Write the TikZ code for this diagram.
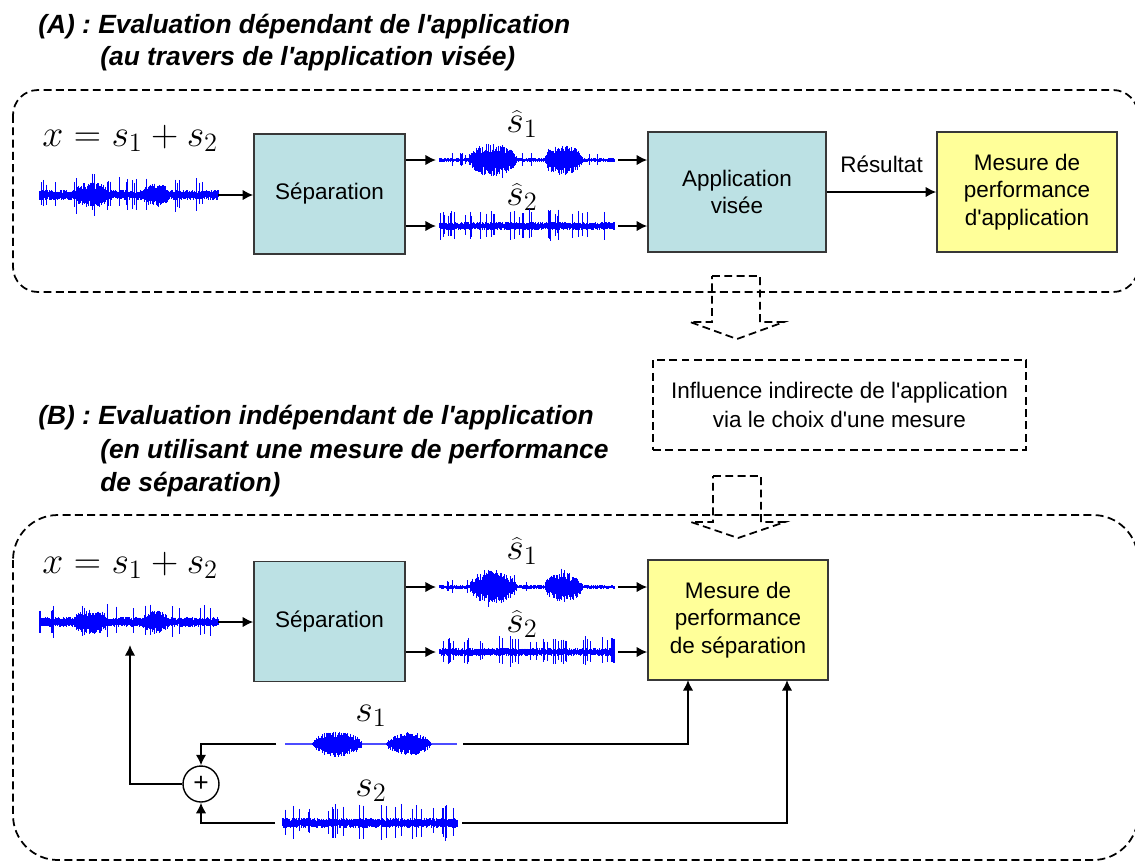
\RequirePackage{fix-cm}
\documentclass[tikz,border=0pt]{standalone}
\usepackage[no-math]{fontspec}
\setmainfont{Liberation Sans}
\usetikzlibrary{arrows.meta}
\definecolor{tealbox}{HTML}{BCE1E4}
\definecolor{yelbox}{HTML}{FFFF99}
\definecolor{boxline}{HTML}{383838}
\definecolor{wblue}{RGB}{0,0,255}
\newcommand{\aq}{\textquotesingle}
\newcommand{\wavedraw}[7]{%
  \draw[wavebase] (#1,#3) -- (#2,#3);
  \foreach \k in {0,...,#4}{%
    \pgfmathsetmacro{\wt}{\k/#4}%
    \pgfmathsetmacro{\xx}{#1+(#2-#1)*\wt}%
    \pgfmathsetmacro{\env}{#5}%
    \pgfmathsetmacro{\spk}{rnd<#6 ? #7*(0.5+0.5*rnd) : 0}%
    \pgfmathsetmacro{\up}{\env*(0.45+0.55*rnd)+\spk}%
    \pgfmathsetmacro{\dn}{\env*(0.45+0.55*rnd)+\spk*(0.6+0.4*rnd)}%
    \draw[waveline] (\xx,#3-\up) -- (\xx,#3+\dn);
  }}
\newcommand{\burst}[3]{((\wt>#1)*(\wt<#2))*#3*sqrt(abs(sin(180*(\wt-#1)/(#2-#1))))}
\begin{document}
\begin{tikzpicture}[x=0.02cm,y=-0.02cm,
  box/.style={draw=boxline,line width=0.9pt,align=center,inner sep=0pt,
    font=\fontsize{12.8}{15.5}\selectfont,minimum height=2.4cm},
  sepbox/.style={box,fill=tealbox,minimum width=3.02cm},
  appbox/.style={box,fill=tealbox,minimum width=3.56cm},
  mesbox/.style={box,fill=yelbox,minimum width=3.6cm},
  dbox/.style={draw,line width=1pt,dash pattern=on 4.5pt off 2.5pt},
  infobox/.style={dbox,align=center,inner sep=0pt,minimum width=7.46cm,minimum height=1.8cm,
    font=\fontsize{12.8}{16.5}\selectfont},
  titletext/.style={font=\fontsize{15}{18}\selectfont\bfseries\itshape,inner sep=0pt,anchor=west},
  mathlbl/.style={font=\fontsize{21.5}{26}\selectfont,inner sep=0pt,anchor=base west},
  plaintext/.style={font=\fontsize{12.8}{15.5}\selectfont,inner sep=0pt},
  arr/.style={line width=1.1pt,-{Latex[length=6pt,width=6pt]}},
  waveline/.style={draw=wblue,line width=0.6pt},
  wavebase/.style={draw=wblue!70,line width=0.6pt},
  plusnode/.style={draw,circle,line width=0.8pt,minimum size=0.72cm,inner sep=0pt,
    font=\fontsize{15}{18}\selectfont}
]
\clip (0,0) rectangle (1135,863);
\pgfmathsetseed{12}

% ---------- titles
\node[titletext] (tA1) at (38,27) {(A) : Evaluation dépendant de l\aq application};
\node[titletext] (tA2) at (100,59) {(au travers de l\aq application visée)};
\node[titletext] (tB1) at (38,418) {(B) : Evaluation indépendant de l\aq application};
\node[titletext] (tB2) at (100,452) {(en utilisant une mesure de performance};
\node[titletext] (tB3) at (100,485) {de séparation)};

% ---------- dashed containers
\draw[dbox,rounded corners=0.5cm] (13,90) rectangle (1138,292);
\draw[dbox,rounded corners=0.9cm] (13,515) rectangle (1138,860);

% ---------- part A
\node[mathlbl] (fA) at (42,146) {$x = s_1 + s_2$};
\node[sepbox] (sepA) at (329.5,194) {Séparation};
\node[appbox] (appA) at (737,192) {Application\\visée};
\node[mesbox] (mesA) at (1027,192) {Mesure de\\performance\\d\aq application};
\node[mathlbl] (lA1) at (506,132) {$\widehat{s}_1$};
\node[mathlbl] (lA2) at (506,205) {$\widehat{s}_2$};

\coordinate (wA0) at (40,195);   \coordinate (wA1) at (218,195);
\coordinate (hA10) at (440,160); \coordinate (hA11) at (614,160);
\coordinate (hA20) at (440,226); \coordinate (hA21) at (614,226);

\wavedraw{40}{218}{195}{270}{5+\burst{0.2}{0.38}{8}+\burst{0.58}{0.72}{7}}{0.09}{14}
\wavedraw{440}{614}{160}{260}{2+\burst{0.17}{0.44}{15}+\burst{0.6}{0.82}{13}}{0.04}{6}
\wavedraw{440}{614}{226}{260}{4}{0.12}{13}

\draw[arr] (wA1) -- (wA1 -| sepA.west);
\draw[arr] (sepA.east |- hA10) -- ([xshift=-0.08cm]hA10);
\draw[arr] (sepA.east |- hA20) -- ([xshift=-0.08cm]hA20);
\draw[arr] ([xshift=0.08cm]hA11) -- (hA11 -| appA.west);
\draw[arr] ([xshift=0.08cm]hA21) -- (hA21 -| appA.west);
\draw[arr] (appA.east) -- node[plaintext,above=0.36cm] (res) {Résultat} (mesA.west);

% ---------- hollow arrows + influence box
\draw[dbox] (712,276) -- (760,276) -- (760,322) -- (784,322) -- (737,339) -- (690,322) -- (712,322) -- cycle;
\node[infobox] (infl) at (839.5,405) {Influence indirecte de l\aq application\\via le choix d\aq une mesure};
\draw[dbox] (713,476) -- (761,476) -- (761,522) -- (785,522) -- (738,538) -- (691,522) -- (713,522) -- cycle;

% ---------- part B
\node[mathlbl] (fB) at (42,573) {$x = s_1 + s_2$};
\node[sepbox] (sepB) at (329.5,621.5) {Séparation};
\node[mesbox] (mesB) at (738,620) {Mesure de\\performance\\de séparation};
\node[mathlbl] (lB1) at (506,559) {$\widehat{s}_1$};
\node[mathlbl] (lB2) at (506,632) {$\widehat{s}_2$};
\node[mathlbl] (ls1) at (355,721) {$s_1$};
\node[mathlbl] (ls2) at (355,796) {$s_2$};

\coordinate (wB0) at (40,622);   \coordinate (wB1) at (218,622);
\coordinate (hB10) at (440,587); \coordinate (hB11) at (614,587);
\coordinate (hB20) at (440,652); \coordinate (hB21) at (614,652);

\wavedraw{40}{218}{622}{270}{5+\burst{0.2}{0.38}{8}+\burst{0.58}{0.72}{7}}{0.09}{14}
\wavedraw{440}{614}{587}{260}{2+\burst{0.17}{0.44}{15}+\burst{0.6}{0.82}{13}}{0.04}{6}
\wavedraw{440}{614}{652}{260}{4}{0.12}{13}
\wavedraw{285}{457}{744}{260}{\burst{0.16}{0.45}{13}+\burst{0.59}{0.85}{12}}{0.0}{0}
\wavedraw{283}{457}{823}{260}{5}{0.12}{16}

\draw[arr] (wB1) -- (wB1 -| sepB.west);
\draw[arr] (sepB.east |- hB10) -- ([xshift=-0.08cm]hB10);
\draw[arr] (sepB.east |- hB20) -- ([xshift=-0.08cm]hB20);
\draw[arr] ([xshift=0.08cm]hB11) -- (hB11 -| mesB.west);
\draw[arr] ([xshift=0.08cm]hB21) -- (hB21 -| mesB.west);

% ---------- reference sources and mixing
\node[plusnode] (plus) at (201,784) {+};
\coordinate (s1L) at (276,744); \coordinate (s1R) at (463,744);
\coordinate (s2L) at (275,823); \coordinate (s2R) at (462,823);
\coordinate (wBbot) at (130,645);
\coordinate (mesBin1) at (688,680);
\coordinate (mesBin2) at (787,680);

\draw[arr] (s1L) -| (plus.north);
\draw[arr] (s2L) -| (plus.south);
\draw[arr] (plus.west) -| (wBbot);
\draw[arr] (s1R) -| (mesBin1);
\draw[arr] (s2R) -| (mesBin2);
\end{tikzpicture}
\end{document}
